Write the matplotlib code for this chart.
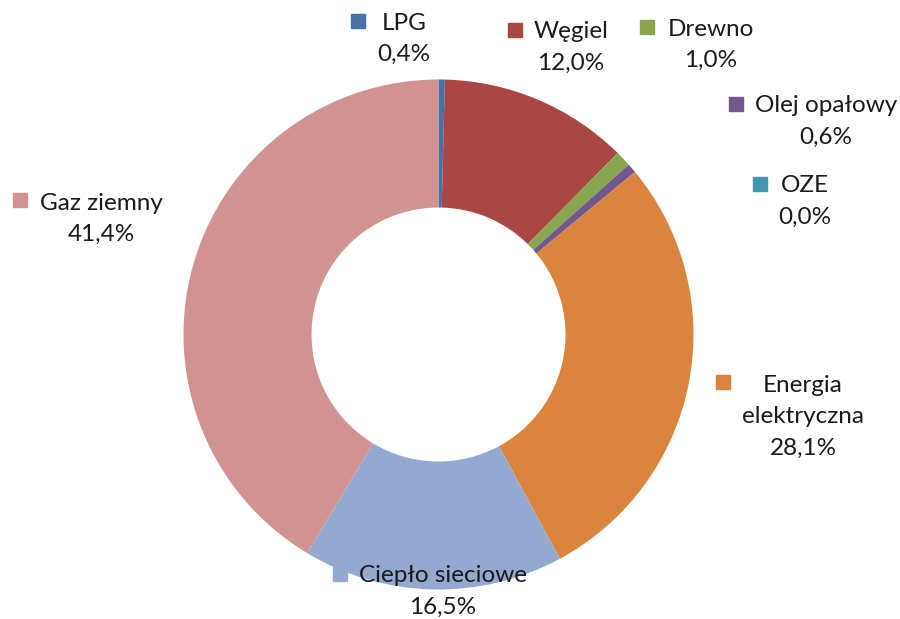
import matplotlib.pyplot as plt
from matplotlib.patches import Rectangle

# data, clockwise from 12 o'clock
labels = ['LPG', 'Węgiel', 'Drewno', 'Olej opałowy', 'OZE', 'Energia\nelektryczna', 'Ciepło sieciowe', 'Gaz ziemny']
values = [0.4, 12.0, 1.0, 0.6, 0.0, 28.1, 16.5, 41.4]
colors = ['#4572A7', '#AA4643', '#89A54E', '#71588F', '#4198AF', '#DB843D', '#93A9CF', '#D19392']

# label block placement in pixels (square centre, text centre x, first line y)
square_pos = [(358, 21), (515, 30), (647, 27), (736, 104), (760, 184), (723, 382), (340, 574), (20, 200)]
text_pos = [(404, 23), (571, 32), (711, 29), (826, 106), (805, 186), (803, 385), (443, 576), (101, 203)]

W, H = 900, 619
fig = plt.figure(figsize=(W / 100, H / 100), dpi=100)
ax = fig.add_axes([0, 0, 1, 1])

cx, cy, r_out, r_in = 438.5, H - 334.5, 255, 127
ax.pie(values, colors=colors, startangle=90, counterclock=False,
       radius=r_out, center=(cx, cy), frame=True,
       wedgeprops=dict(width=r_out - r_in, linewidth=0))
ax.set_xlim(0, W)
ax.set_ylim(0, H)
ax.set_aspect('equal')
ax.axis('off')

font = ['Lato', 'DejaVu Sans']
line_h = 31.5
for lab, v, c, (sx, sy), (tx, ty) in zip(labels, values, colors, square_pos, text_pos):
    ax.add_patch(Rectangle((sx - 7, H - sy - 7), 14, 14, color=c, zorder=1 if lab.startswith('Cie') else 3))
    lines = lab.split('\n') + [f'{v:.1f}%'.replace('.', ',')]
    for i, s in enumerate(lines):
        ax.text(tx, H - (ty + i * line_h), s, ha='center', va='center',
                fontsize=17.5, family=font, color='#1a1a1a', zorder=4)

fig.savefig('out.png', dpi=100)
